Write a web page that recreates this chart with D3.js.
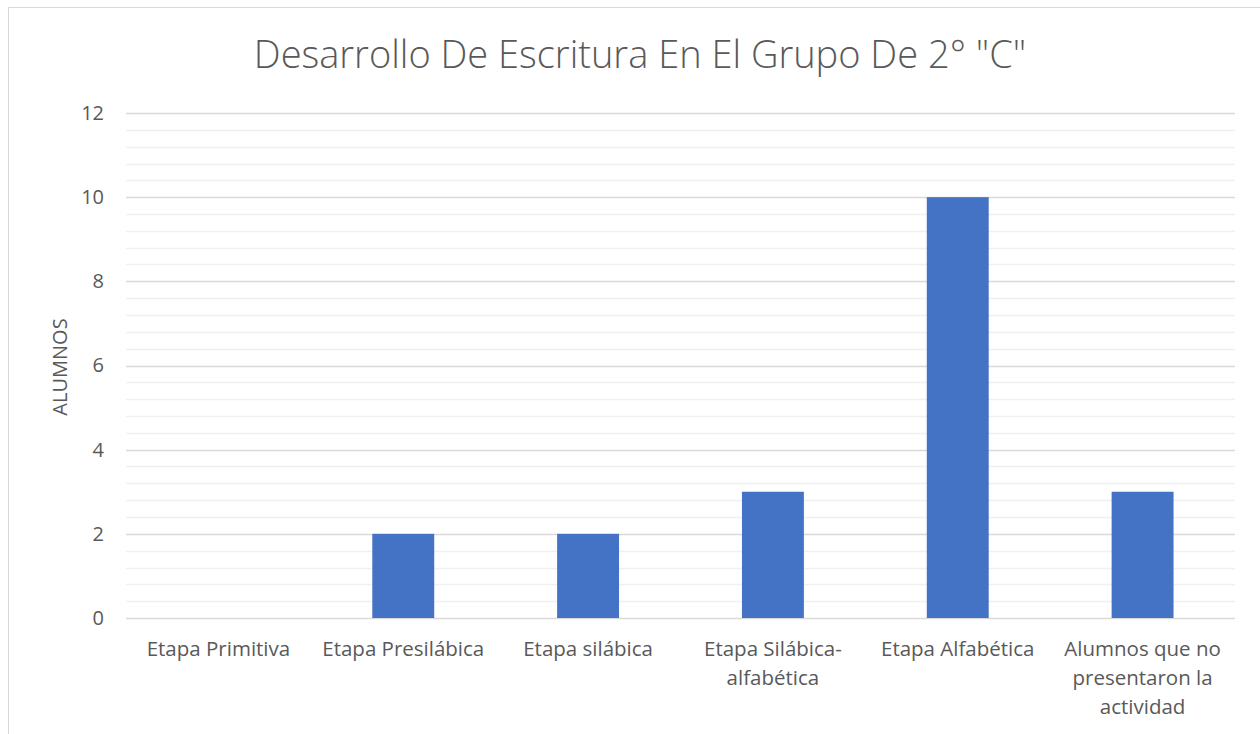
<!DOCTYPE html>
<html><head><meta charset="utf-8">
<script src="https://cdn.jsdelivr.net/npm/d3@7"></script>
<style>
html,body{margin:0;padding:0;background:#fff;}
svg{display:block;}
text{font-family:"Open Sans","Noto Sans",sans-serif;fill:#595959;}
</style></head>
<body>
<svg id="chart" width="1260" height="734"></svg>
<script>
const categories = ["Etapa Primitiva","Etapa Presilábica","Etapa silábica","Etapa Silábica-alfabética","Etapa Alfabética","Alumnos que no presentaron la actividad"];
const values = [0, 2, 2, 3, 10, 3];
const yTicks = [0, 2, 4, 6, 8, 10, 12];
const title = 'Desarrollo De Escritura En El Grupo De 2° "C"';
const yLabel = "ALUMNOS";

const svg = d3.select("#chart");
svg.append("rect").attr("x",8.5).attr("y",7.5).attr("width",1260).attr("height",740)
  .attr("fill","#fff").attr("stroke","#d9d9d9").attr("stroke-width",1);

const m = {left:126, right:1235, top:113, bottom:618};
const x = d3.scaleBand().domain(categories).range([m.left, m.right]).paddingInner(0.665).paddingOuter(0.3325);
const y = d3.scaleLinear().domain([0,12]).range([m.bottom, m.top]);

// minor grid
const minor = d3.range(0, 12.001, 0.4).filter(v => Math.abs(v/2 - Math.round(v/2)) > 1e-6);
svg.append("g").selectAll("line").data(minor).join("line")
  .attr("x1", m.left).attr("x2", m.right)
  .attr("y1", d => Math.round(y(d))+0.5).attr("y2", d => Math.round(y(d))+0.5)
  .attr("stroke","#f0f0f0").attr("stroke-width",1.5);
// major grid
svg.append("g").selectAll("line").data(yTicks).join("line")
  .attr("x1", m.left).attr("x2", m.right)
  .attr("y1", d => Math.round(y(d))+0.5).attr("y2", d => Math.round(y(d))+0.5)
  .attr("stroke","#d9d9d9").attr("stroke-width",1.5);

// y axis labels
const yAxis = d3.axisLeft(y).tickValues(yTicks).tickSize(0).tickPadding(22);
const gy = svg.append("g").attr("transform",`translate(${m.left},0)`).call(yAxis);
gy.select(".domain").remove();
gy.selectAll("text").style("font-size","20px").attr("fill","#595959").attr("font-family",'"Open Sans","Noto Sans",sans-serif');

// bars
svg.append("g").selectAll("rect").data(values).join("rect")
  .attr("x", (d,i) => x(categories[i])).attr("width", x.bandwidth())
  .attr("y", d => y(d)).attr("height", d => y(0) - y(d))
  .attr("fill","#4472C4");

// x labels
const xAxis = d3.axisBottom(x).tickSize(0).tickPadding(0);
const gx = svg.append("g").attr("transform",`translate(0,${m.bottom})`).call(xAxis);
gx.select(".domain").remove();
gx.selectAll("text").remove();
gx.selectAll(".tick").each(function(d){
  const t = d3.select(this).append("text").attr("text-anchor","middle")
    .attr("y", 38).style("font-size","20.5px").attr("fill","#595959");
  const tokens = d.replace(/-/g,"-\u0000").split(/(?<=\u0000)| /).map(s=>s.replace("\u0000",""));
  const maxW = 180;
  let lines = [], cur = "";
  const probe = t.append("tspan");
  tokens.forEach(tok => {
    const sep = (cur === "" || cur.endsWith("-")) ? "" : " ";
    const cand = cur + sep + tok;
    probe.text(cand);
    if (cur !== "" && probe.node().getComputedTextLength() > maxW) { lines.push(cur); cur = tok; }
    else cur = cand;
  });
  if (cur) lines.push(cur);
  probe.remove();
  lines.forEach((l,i) => t.append("tspan").attr("x",0).attr("dy", i===0 ? 0 : 29).text(l));
});

// title
svg.append("text").attr("x", 640).attr("y", 68).attr("text-anchor","middle")
  .style("font-size","38px").style("font-weight","300").attr("fill","#595959").text(title);

// y label
svg.append("text").attr("transform","translate(67,367) rotate(-90)").attr("text-anchor","middle")
  .style("font-size","20px").attr("fill","#595959").text(yLabel);
</script>
</body></html>
